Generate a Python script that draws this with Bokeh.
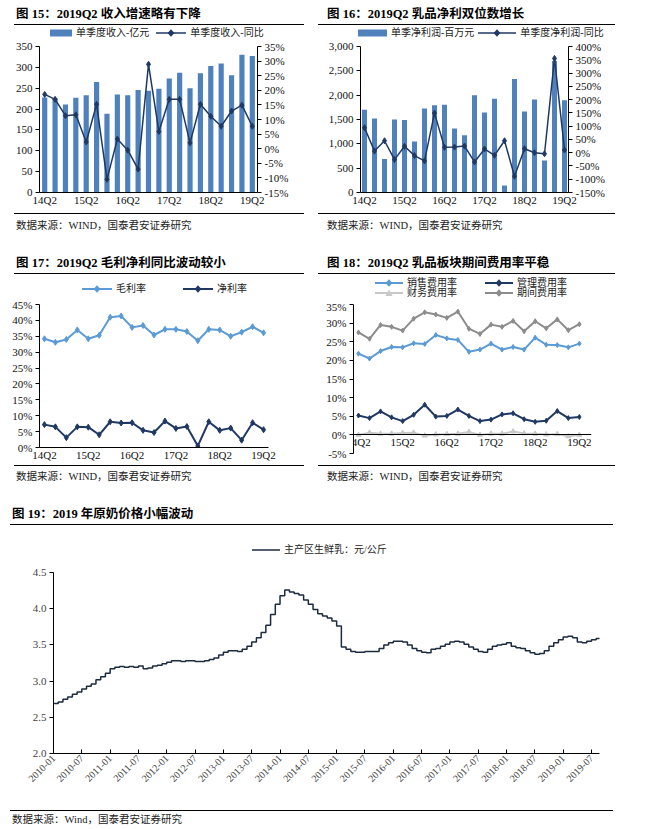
import math
from bokeh.plotting import figure
from bokeh.models import (LinearAxis, Range1d, FixedTicker, PrintfTickFormatter,
                          NumeralTickFormatter, Div, Spacer)
from bokeh.layouts import column, row
from bokeh.embed import file_html
from bokeh.resources import INLINE

# ---------------- data ----------------
quarters = ["14Q2", "14Q3", "14Q4", "15Q1", "15Q2", "15Q3", "15Q4", "16Q1", "16Q2", "16Q3",
            "16Q4", "17Q1", "17Q2", "17Q3", "17Q4", "18Q1", "18Q2", "18Q3", "18Q4", "19Q1", "19Q2"]

revenue = [228, 226, 211, 227, 233, 265, 189, 235, 233, 246, 244, 249, 273, 287, 250, 286,
           303, 309, 281, 330, 327]
revenue_yoy = [18.6, 16.9, 11.3, 11.6, 2.3, 15.2, -10.5, 3.3, -0.5, -7.0, 28.9, 5.9, 16.9,
               16.9, 2.0, 15.2, 11.1, 7.7, 12.9, 14.9, 7.7]

profit = [1700, 1520, 690, 1500, 1490, 1050, 1725, 1795, 1805, 1315, 1175, 2000, 1645, 1925,
          145, 2330, 1665, 1910, 660, 2700, 1895]
profit_yoy = [94, 6, 45, -26, 24, -11, -31, 149, 20, 21, 25, -35, 14, -10, 45, -89, 15, 0,
              -4, 355, 10]

gross_margin = [34.2, 33.1, 34.0, 37.0, 34.2, 35.3, 41.0, 41.4, 37.8, 38.4, 35.4, 37.2, 37.2,
                36.5, 33.6, 37.2, 37.0, 35.0, 36.3, 38.0, 36.1]
net_margin = [7.2, 6.5, 3.1, 6.5, 6.4, 4.0, 8.1, 7.7, 7.8, 5.4, 4.7, 8.3, 6.0, 6.6, 0.5, 8.1,
              5.4, 6.1, 2.3, 7.8, 5.6]

sales_exp = [21.8, 20.5, 22.5, 23.6, 23.5, 24.6, 24.4, 26.8, 25.9, 25.5, 22.3, 22.9, 24.5,
             22.9, 23.6, 22.9, 26.1, 24.2, 24.1, 23.5, 24.5]
admin_exp = [5.2, 4.5, 6.3, 4.7, 3.7, 5.4, 8.1, 4.9, 5.1, 6.8, 5.1, 3.7, 4.1, 5.5, 5.8, 4.2,
             3.5, 3.8, 6.4, 4.5, 4.8]
fin_exp = [0.0, 0.6, 0.3, 0.3, 0.5, 0.6, -0.2, 0.1, 0.2, 0.3, 0.8, 0.0, 0.3, 0.3, 0.9, 0.4,
           0.3, 0.1, 0.2, -0.4, 0.0]
period_exp = [27.5, 25.8, 29.5, 29.0, 28.0, 31.2, 32.9, 32.3, 31.4, 33.1, 28.5, 27.1, 29.6,
              29.0, 30.6, 27.8, 30.5, 28.6, 31.0, 28.1, 29.7]

# monthly raw-milk price, 2010-01 onwards (yuan/kg)
milk_price = [2.69, 2.71, 2.75, 2.78, 2.82, 2.85, 2.89, 2.93, 2.96, 3.02, 3.06, 3.11,
              3.17, 3.19, 3.20, 3.19, 3.20, 3.19, 3.21, 3.17, 3.18, 3.21, 3.22, 3.24,
              3.26, 3.28, 3.28, 3.27, 3.28, 3.28, 3.27, 3.27, 3.28, 3.30, 3.32, 3.36,
              3.40, 3.42, 3.42, 3.41, 3.44, 3.48, 3.54, 3.60, 3.67, 3.77, 3.92, 4.06,
              4.18, 4.26, 4.23, 4.21, 4.19, 4.12, 4.06, 3.99, 3.93, 3.90, 3.87, 3.83,
              3.76, 3.47, 3.44, 3.41, 3.40, 3.40, 3.41, 3.41, 3.41, 3.45, 3.50, 3.53,
              3.55, 3.55, 3.54, 3.50, 3.45, 3.42, 3.40, 3.39, 3.44, 3.45, 3.48, 3.51,
              3.54, 3.55, 3.54, 3.51, 3.47, 3.44, 3.41, 3.40, 3.44, 3.48, 3.50, 3.51,
              3.53, 3.48, 3.46, 3.45, 3.42, 3.39, 3.37, 3.38, 3.42, 3.48, 3.53, 3.57,
              3.61, 3.62, 3.60, 3.54, 3.53, 3.55, 3.57, 3.59, 3.64]
milk_tick_labels = ["2010-01", "2010-07", "2011-01", "2011-07", "2012-01", "2012-07",
                    "2013-01", "2013-07", "2014-01", "2014-07", "2015-01", "2015-07",
                    "2016-01", "2016-07", "2017-01", "2017-07", "2018-01", "2018-07",
                    "2019-01", "2019-07"]

# ---------------- styles ----------------
FONT = "Liberation Serif, Noto Sans CJK SC"
CSSFONT = "'Liberation Serif','Noto Sans CJK SC',serif"
BAR = "#4f81bd"
NAVY = "#1f3864"
LIGHT = "#5b9bd5"
GRAY = "#8c8c8c"
LGRAY = "#c8c8c8"
MILK = "#1c2b3f"

xidx = list(range(len(quarters)))
q2_ticks = [i for i, q in enumerate(quarters) if q.endswith("Q2")]
q2_labels = {i: quarters[i] for i in q2_ticks}


def title_div(text, width, height, left, rule_left, right=0):
    html = (f'<div style="position:relative;width:{width}px;height:{height}px;">'
            f'<div style="position:absolute;left:{rule_left}px;right:{right}px;bottom:0;'
            f'border-bottom:1px solid #000;"></div>'
            f'<div style="position:absolute;left:{left}px;bottom:4px;font-family:{CSSFONT};'
            f'font-weight:bold;font-size:12.5px;line-height:14px;color:#000;'
            f'white-space:nowrap;">{text}</div></div>')
    return Div(text=html, width=width, height=height, margin=(0, 0, 0, 0))


def source_div(text, width, height, rule_top, text_top, left, rule_left, right=0):
    html = (f'<div style="position:relative;width:{width}px;height:{height}px;">'
            f'<div style="position:absolute;left:{rule_left}px;right:{right}px;top:{rule_top}px;'
            f'border-top:1px solid #000;"></div>'
            f'<div style="position:absolute;left:{left}px;top:{text_top}px;font-family:{CSSFONT};'
            f'font-size:10.5px;line-height:12px;color:#222;white-space:nowrap;">{text}</div></div>')
    return Div(text=html, width=width, height=height, margin=(0, 0, 0, 0))


def swatch(kind, color, marker, w, lw):
    if kind == "bar":
        inner = f'<rect x="0" y="1.5" width="{w}" height="7" fill="{color}"/>'
    else:
        inner = f'<line x1="0" y1="5" x2="{w}" y2="5" stroke="{color}" stroke-width="{lw}"/>'
        c = w / 2
        if marker == "diamond":
            inner += f'<path d="M{c} 1.3 L{c + 3.4} 5 L{c} 8.7 L{c - 3.4} 5 Z" fill="{color}"/>'
        elif marker == "triangle":
            inner += f'<path d="M{c} 1.5 L{c + 3.5} 8 L{c - 3.5} 8 Z" fill="{color}"/>'
    return f'<svg width="{w}" height="10" style="display:block;flex:none">{inner}</svg>'


def legend_div(width, height, rows, left, gap=8, item_w=None, lw=1.5):
    """rows: list of (center_y, [(label, kind, color, marker, glyph_width), ...])"""
    parts = []
    for cy, items in rows:
        its = []
        for k, (label, kind, color, marker, gw) in enumerate(items):
            if item_w:
                box = f"width:{item_w}px;"
            else:
                box = f"margin-right:{gap}px;" if k < len(items) - 1 else ""
            its.append(f'<div style="display:flex;align-items:center;{box}">'
                       f'{swatch(kind, color, marker, gw, lw)}'
                       f'<span style="margin-left:4px;">{label}</span></div>')
        parts.append(f'<div style="position:absolute;left:{left}px;top:{cy - 6}px;height:12px;'
                     f'display:flex;align-items:center;font-family:{CSSFONT};font-size:10px;'
                     f'line-height:12px;color:#222;white-space:nowrap;">{"".join(its)}</div>')
    html = f'<div style="position:relative;width:{width}px;height:{height}px;">{"".join(parts)}</div>'
    return Div(text=html, width=width, height=height, margin=(0, 0, 0, 0))


def style_axis(ax, tick_out=4):
    ax.axis_line_color = "#000000"
    ax.axis_line_width = 1
    ax.major_tick_line_color = "#000000"
    ax.major_tick_out = tick_out
    ax.major_tick_in = 0
    ax.minor_tick_out = 0
    ax.minor_tick_in = 0
    ax.major_label_text_font = FONT
    ax.major_label_text_font_size = "11px"
    ax.major_label_text_color = "#111111"
    ax.major_label_standoff = 3


def base_fig(width, height, xr, yr, left, right, top, bottom):
    p = figure(width=width, height=height, x_range=xr, y_range=yr,
               output_backend="svg", toolbar_location=None,
               min_border_left=left, min_border_right=right,
               min_border_top=top, min_border_bottom=bottom)
    p.outline_line_color = None
    p.xgrid.grid_line_color = None
    p.ygrid.grid_line_color = None
    p.background_fill_color = "white"
    p.border_fill_color = "white"
    style_axis(p.xaxis[0], tick_out=0)
    p.xaxis[0].major_label_standoff = 1
    style_axis(p.yaxis[0])
    p.xaxis[0].ticker = FixedTicker(ticks=q2_ticks)
    p.xaxis[0].major_label_overrides = q2_labels
    return p


# ---------------- figure 15 ----------------
leg15 = legend_div(296, 14, [(8, [("单季度收入-亿元", "bar", BAR, None, 22),
                                  ("单季度收入-同比", "line", NAVY, "diamond", 30)])],
                   left=42, gap=7)
p15 = base_fig(296, 171, Range1d(-0.5, 20.5), Range1d(0, 350), 31, 47, 7, 18)
p15.yaxis[0].ticker = FixedTicker(ticks=list(range(0, 351, 50)))
p15.extra_y_ranges = {"yoy": Range1d(-15, 35)}
ax15r = LinearAxis(y_range_name="yoy", ticker=FixedTicker(ticks=list(range(-15, 36, 5))),
                   formatter=PrintfTickFormatter(format="%d%%"))
style_axis(ax15r)
p15.add_layout(ax15r, "right")
p15.vbar(x=xidx, top=revenue, width=0.5, fill_color=BAR, line_color=None)
p15.line(xidx, revenue_yoy, y_range_name="yoy", line_color=NAVY, line_width=1.5)
p15.scatter(xidx, revenue_yoy, y_range_name="yoy", marker="diamond", size=6,
            fill_color=NAVY, line_color=NAVY)

# ---------------- figure 16 ----------------
leg16 = legend_div(297, 14, [(8, [("单季净利润-百万元", "bar", BAR, None, 29),
                                  ("单季度净利润-同比", "line", NAVY, "diamond", 38)])],
                   left=40, gap=4)
p16 = base_fig(297, 171, Range1d(-0.4, 20.4), Range1d(0, 3000), 42, 47, 7, 18)
p16.yaxis[0].ticker = FixedTicker(ticks=list(range(0, 3001, 500)))
p16.yaxis[0].formatter = NumeralTickFormatter(format="0,0")
p16.extra_y_ranges = {"yoy": Range1d(-150, 400)}
ax16r = LinearAxis(y_range_name="yoy", ticker=FixedTicker(ticks=list(range(-150, 401, 50))),
                   formatter=PrintfTickFormatter(format="%d%%"))
style_axis(ax16r)
p16.add_layout(ax16r, "right")
p16.vbar(x=xidx, top=profit, width=0.5, fill_color=BAR, line_color=None)
p16.line(xidx, profit_yoy, y_range_name="yoy", line_color=NAVY, line_width=1.5)
p16.scatter(xidx, profit_yoy, y_range_name="yoy", marker="diamond", size=6,
            fill_color=NAVY, line_color=NAVY)

# ---------------- figure 17 ----------------
leg17 = legend_div(296, 22, [(15, [("毛利率", "line", LIGHT, "diamond", 30),
                                   ("净利率", "line", NAVY, "diamond", 30)])],
                   left=74, gap=37, lw=2)
p17 = base_fig(296, 167, Range1d(-0.45, 20.45), Range1d(0, 45), 31, 36, 8, 16)
p17.yaxis[0].ticker = FixedTicker(ticks=list(range(0, 46, 5)))
p17.yaxis[0].formatter = PrintfTickFormatter(format="%d%%")
p17.line(xidx, gross_margin, line_color=LIGHT, line_width=2)
p17.scatter(xidx, gross_margin, marker="diamond", size=6, fill_color=LIGHT, line_color=LIGHT)
p17.line(xidx, net_margin, line_color=NAVY, line_width=2)
p17.scatter(xidx, net_margin, marker="diamond", size=6, fill_color=NAVY, line_color=NAVY)

# ---------------- figure 18 ----------------
leg18 = legend_div(297, 26, [(9, [("销售费用率", "line", LIGHT, "diamond", 28),
                                  ("管理费用率", "line", NAVY, "diamond", 28)]),
                             (19, [("财务费用率", "line", LGRAY, "triangle", 28),
                                   ("期间费用率", "line", GRAY, "diamond", 28)])],
                   left=57, item_w=110, lw=2)
p18 = base_fig(297, 163, Range1d(-0.45, 21.1), Range1d(-5, 35), 35, 24, 4, 10)
p18.yaxis[0].ticker = FixedTicker(ticks=list(range(-5, 36, 5)))
p18.yaxis[0].formatter = PrintfTickFormatter(format="%d%%")
p18.xaxis[0].fixed_location = 0
for vals, col, mk in [(sales_exp, LIGHT, "diamond"), (admin_exp, NAVY, "diamond"),
                      (fin_exp, LGRAY, "triangle"), (period_exp, GRAY, "diamond")]:
    p18.line(xidx, vals, line_color=col, line_width=2)
    p18.scatter(xidx, vals, marker=mk, size=5, fill_color=col, line_color=col)

# ---------------- figure 19 ----------------
months = list(range(len(milk_price)))
leg19 = legend_div(611, 32, [(25, [("主产区生鲜乳：元/公斤", "line", MILK, None, 28)])],
                   left=244)
tick_pos = [6 * i for i in range(len(milk_tick_labels))]
p19 = figure(width=611, height=251, x_range=Range1d(0, 115.7), y_range=Range1d(2.0, 4.5),
             output_backend="svg", toolbar_location=None,
             min_border_left=45, min_border_right=20, min_border_top=15, min_border_bottom=55)
p19.outline_line_color = None
p19.xgrid.grid_line_color = None
p19.ygrid.grid_line_color = None
style_axis(p19.xaxis[0], tick_out=0)
p19.xaxis[0].major_tick_in = 4
p19.xaxis[0].ticker = FixedTicker(ticks=tick_pos)
p19.xaxis[0].major_label_overrides = {t: lab for t, lab in zip(tick_pos, milk_tick_labels)}
p19.xaxis[0].major_label_orientation = math.pi / 4
p19.xaxis[0].major_label_text_font_size = "10px"
p19.xaxis[0].major_label_text_color = "#444444"
style_axis(p19.yaxis[0])
p19.yaxis[0].ticker = FixedTicker(ticks=[2.0, 2.5, 3.0, 3.5, 4.0, 4.5])
p19.yaxis[0].formatter = NumeralTickFormatter(format="0.0")
p19.yaxis[0].major_label_text_color = "#444444"
p19.step(months, milk_price, mode="after", line_color=MILK, line_width=1.5)

# ---------------- layout ----------------
SRC = "数据来源：WIND，国泰君安证券研究"
panel15 = column(title_div("图 15：2019Q2 收入增速略有下降", 296, 17, left=8, rule_left=6),
                 leg15, p15, source_div(SRC, 296, 22, 3, 10, left=8, rule_left=6), spacing=0)
panel16 = column(title_div("图 16：2019Q2 乳品净利双位数增长", 297, 17, left=9, rule_left=0),
                 leg16, p16, source_div(SRC, 297, 22, 3, 10, left=9, rule_left=0), spacing=0)
panel17 = column(title_div("图 17：2019Q2 毛利净利同比波动较小", 296, 42, left=8, rule_left=6),
                 leg17, p17, source_div(SRC, 296, 22, 2, 8, left=8, rule_left=6), spacing=0)
panel18 = column(title_div("图 18：2019Q2 乳品板块期间费用率平稳", 297, 42, left=9, rule_left=0),
                 leg18, p18, source_div(SRC, 297, 22, 2, 8, left=9, rule_left=0), spacing=0)
panel19 = column(title_div("图 19：2019 年原奶价格小幅波动", 611, 40, left=4, rule_left=2, right=6),
                 leg19, p19,
                 source_div("数据来源：Wind，国泰君安证券研究", 611, 13, 2, 6, left=4,
                            rule_left=2, right=6),
                 spacing=0)

body = column(row(panel15, Spacer(width=14), panel16, spacing=0),
              row(panel17, Spacer(width=14), panel18, spacing=0),
              panel19, spacing=0)
layout = column(Spacer(height=8), row(Spacer(width=8), body, spacing=0), spacing=0)

open("out.html", "w").write(file_html(layout, INLINE))
